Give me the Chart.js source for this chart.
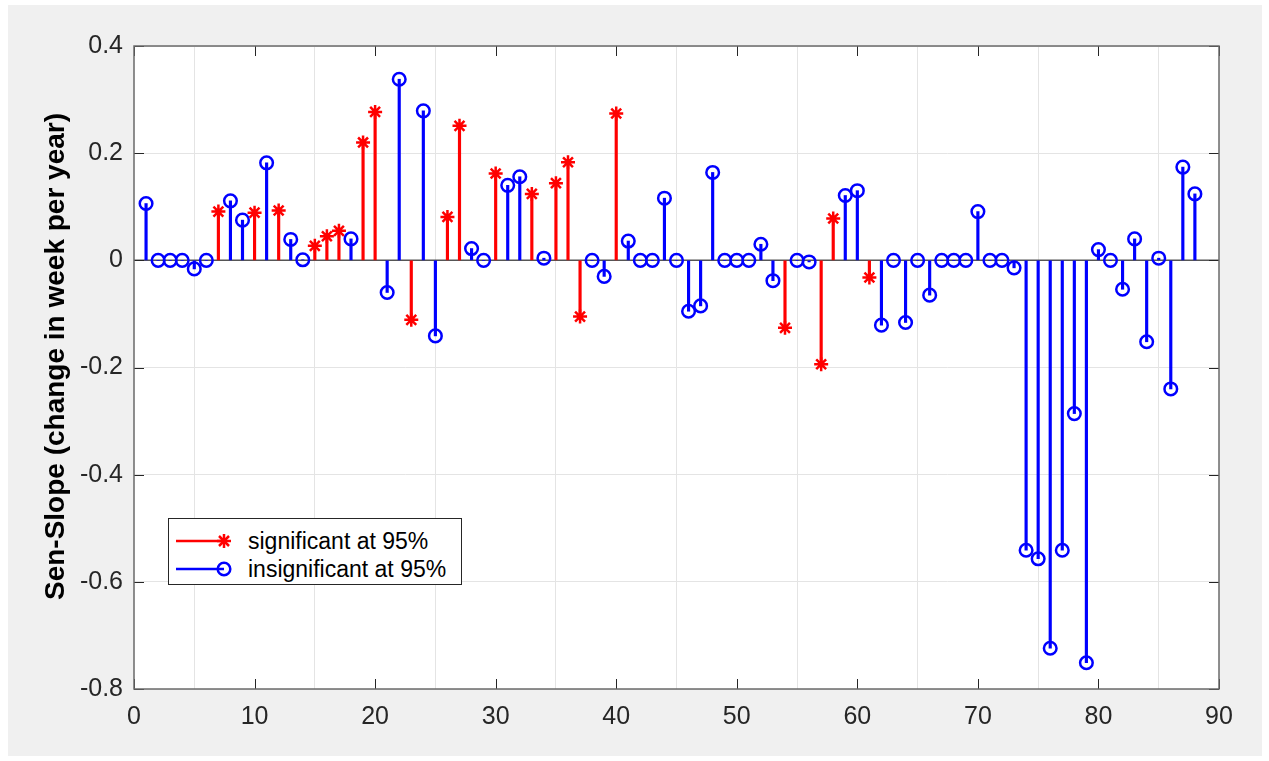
<!DOCTYPE html>
<html>
<head>
<meta charset="utf-8">
<script src="https://cdn.jsdelivr.net/npm/chart.js@4.4.1/dist/chart.umd.min.js"></script>
<style>
  body { margin: 0; background: #fff; font-family: "Liberation Sans", Arial, sans-serif; }
  #fig { position: absolute; left: 8px; top: 5px; width: 1254px; height: 751px; background: #f0f0f0; }
  #wrap { position: absolute; left: 0; top: 0; width: 1269px; height: 761px; }
  #legend {
    position: absolute; left: 168px; top: 518px; width: 294px; height: 67px;
    box-sizing: border-box; border: 1px solid #262626; background: #fff;
    font-size: 23px; color: #000;
  }
  #legend .row { position: absolute; left: 0; height: 28px; display: flex; align-items: center; }
  #legend svg { margin-left: 7px; margin-right: 10px; }
</style>
</head>
<body>
<div id="fig"></div>
<div id="wrap"><canvas id="myChart" width="1269" height="761"></canvas></div>
<div id="legend">
  <div class="row" style="top:8px">
    <svg width="62" height="20">
      <line x1="0" y1="10" x2="48" y2="10" stroke="#ff0000" stroke-width="2.5"/>
      <g stroke="#ff0000" stroke-width="2.5">
        <line x1="48" y1="3" x2="48" y2="17"/>
        <line x1="41" y1="10" x2="55" y2="10"/>
        <line x1="43" y1="5" x2="53" y2="15"/>
        <line x1="43" y1="15" x2="53" y2="5"/>
      </g>
    </svg>
    <span>significant at 95%</span>
  </div>
  <div class="row" style="top:36px">
    <svg width="62" height="20">
      <line x1="0" y1="10" x2="48" y2="10" stroke="#0000ff" stroke-width="2.5"/>
      <circle cx="48" cy="10" r="6.3" fill="none" stroke="#0000ff" stroke-width="2.5"/>
    </svg>
    <span>insignificant at 95%</span>
  </div>
</div>
<script>
// Sen-slope per station (1..88)
var slopes = [
   0.106,  0.000,  0.000,  0.000, -0.016,  0.000,  0.091,  0.111,  0.075,  0.089,
   0.182,  0.093,  0.039,  0.001,  0.027,  0.045,  0.055,  0.040,  0.220,  0.277,
  -0.060,  0.338, -0.111,  0.279, -0.141,  0.081,  0.251,  0.022,  0.000,  0.162,
   0.140,  0.156,  0.124,  0.004,  0.144,  0.183, -0.105,  0.000, -0.030,  0.274,
   0.036,  0.000,  0.000,  0.116,  0.000, -0.095, -0.085,  0.164,  0.000,  0.000,
   0.000,  0.030, -0.038, -0.126,  0.000, -0.003, -0.194,  0.078,  0.121,  0.130,
  -0.032, -0.121,  0.000, -0.116,  0.000, -0.065,  0.000,  0.000,  0.000,  0.091,
   0.000,  0.000, -0.014, -0.541, -0.557, -0.724, -0.541, -0.286, -0.751,  0.020,
   0.000, -0.054,  0.040, -0.152,  0.004, -0.240,  0.174,  0.124
];
// stations whose trend is significant at 95%
var significant = [7, 10, 12, 15, 16, 17, 19, 20, 23, 26, 27, 30, 33, 35, 36, 37, 40, 54, 57, 58, 61];

var xTicks = [0, 10, 20, 30, 40, 50, 60, 70, 80, 90];
var yTicks = [-0.8, -0.6, -0.4, -0.2, 0, 0.2, 0.4];
var yLabel = 'Sen-Slope (change in week per year)';

var sigData = [];
var insData = [];
slopes.forEach(function (v, i) {
    var n = i + 1;
    if (significant.indexOf(n) >= 0) sigData.push({ x: n, y: v });
    else insData.push({ x: n, y: v });
});

var RED = '#ff0000';
var BLUE = '#0000ff';
var AXIS = '#262626';

// white axes background, stem baseline, box, inward ticks and y label
var framePlugin = {
    id: 'frame',
    beforeDraw: function (chart) {
        var a = chart.chartArea, ctx = chart.ctx;
        ctx.save();
        ctx.fillStyle = '#ffffff';
        ctx.fillRect(a.left, a.top, a.right - a.left, a.bottom - a.top);
        ctx.restore();
    },
    beforeDatasetsDraw: function (chart) {
        var a = chart.chartArea, ctx = chart.ctx;
        var y0 = chart.scales.y.getPixelForValue(0);
        ctx.save();
        ctx.strokeStyle = '#555555';
        ctx.lineWidth = 1.5;
        ctx.beginPath();
        ctx.moveTo(a.left, y0);
        ctx.lineTo(a.right, y0);
        ctx.stroke();
        ctx.restore();
    },
    afterDatasetsDraw: function (chart) {
        var a = chart.chartArea, ctx = chart.ctx;
        var xs = chart.scales.x, ys = chart.scales.y;
        var len = 10;
        ctx.save();
        ctx.strokeStyle = AXIS;
        ctx.lineWidth = 1;
        ctx.beginPath();
        xTicks.forEach(function (t) {
            var px = Math.round(xs.getPixelForValue(t)) + 0.5;
            ctx.moveTo(px, a.bottom); ctx.lineTo(px, a.bottom - len);
            ctx.moveTo(px, a.top); ctx.lineTo(px, a.top + len);
        });
        yTicks.forEach(function (t) {
            var py = Math.round(ys.getPixelForValue(t)) + 0.5;
            ctx.moveTo(a.left, py); ctx.lineTo(a.left + len, py);
            ctx.moveTo(a.right, py); ctx.lineTo(a.right - len, py);
        });
        ctx.stroke();
        ctx.strokeStyle = '#6a6a6a';
        ctx.lineWidth = 1.5;
        ctx.strokeRect(a.left, a.top, a.right - a.left, a.bottom - a.top);

        // y axis label, sits a little above the axes centre
        ctx.translate(56, (a.top + a.bottom) / 2 - 11);
        ctx.rotate(-Math.PI / 2);
        ctx.fillStyle = '#000000';
        ctx.font = 'bold 28px "Liberation Sans", Arial, sans-serif';
        ctx.textAlign = 'center';
        ctx.textBaseline = 'middle';
        ctx.fillText(yLabel, 0, 0);
        ctx.restore();
    }
};

var tickFont = { family: '"Liberation Sans", Arial, sans-serif', size: 25 };

new Chart(document.getElementById('myChart').getContext('2d'), {
    data: {
        datasets: [{
            type: 'scatter',
            label: 'significant at 95%',
            data: sigData,
            pointStyle: 'star',
            pointRadius: 7,
            pointBorderWidth: 2.5,
            pointBorderColor: RED,
            pointBackgroundColor: RED,
            order: 0
        }, {
            type: 'scatter',
            label: 'insignificant at 95%',
            data: insData,
            pointStyle: 'circle',
            pointRadius: 6.3,
            pointBorderWidth: 2.5,
            pointBorderColor: BLUE,
            pointBackgroundColor: 'rgba(0,0,0,0)',
            order: 0
        }, {
            type: 'bar',
            data: sigData,
            backgroundColor: RED,
            barThickness: 2.5,
            grouped: false,
            order: 1
        }, {
            type: 'bar',
            data: insData,
            backgroundColor: BLUE,
            barThickness: 2.5,
            grouped: false,
            order: 1
        }]
    },
    options: {
        responsive: false,
        animation: false,
        events: [],
        layout: { padding: { top: 46, right: 50, bottom: 0, left: 0 } },
        scales: {
            x: {
                type: 'linear',
                min: 0,
                max: 90,
                offset: false,
                afterBuildTicks: function (s) { s.ticks = xTicks.map(function (v) { return { value: v }; }); },
                afterFit: function (s) { s.height = 72; },
                ticks: { font: tickFont, color: AXIS, padding: 13, maxRotation: 0 },
                grid: { color: '#e4e4e4', drawTicks: false },
                border: { display: false }
            },
            y: {
                type: 'linear',
                min: -0.8,
                max: 0.4,
                afterBuildTicks: function (s) { s.ticks = yTicks.map(function (v) { return { value: v }; }); },
                afterFit: function (s) { s.width = 134; },
                ticks: {
                    font: tickFont,
                    color: AXIS,
                    padding: 11,
                    callback: function (v) { return v === 0 ? '0' : v.toFixed(1); }
                },
                grid: { color: '#e4e4e4', drawTicks: false },
                border: { display: false }
            }
        },
        plugins: {
            legend: { display: false },
            tooltip: { enabled: false }
        }
    },
    plugins: [framePlugin]
});
</script>
</body>
</html>
